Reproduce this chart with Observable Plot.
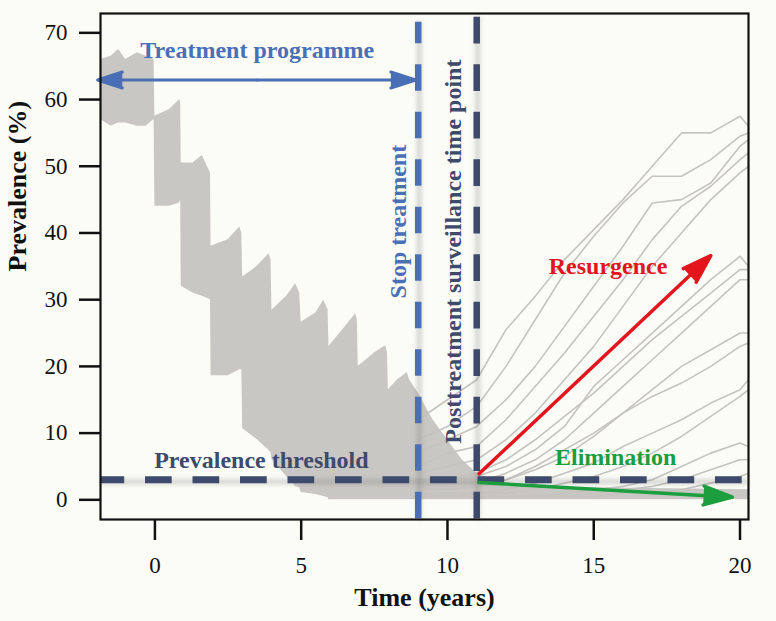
<!DOCTYPE html>
<html><head><meta charset="utf-8">
<script src="https://cdn.jsdelivr.net/npm/d3@7"></script>
<script src="https://cdn.jsdelivr.net/npm/@observablehq/plot@0.6"></script>
<style>
html,body{margin:0;padding:0;background:#fcfcf7;}
</style></head><body><div id="chart"></div>
<script>
// Envelope of the dense simulation runs (treatment phase)
const envT    = [-1.86,-1.5,-1.24,-1,-0.6,-0.3,-0.03, 0,0.5,0.85,0.88, 0.9,1.3,1.62,1.9, 1.92,2.5,2.9,2.97, 3.0,3.5,3.9,3.97, 4.0,4.5,4.81,4.95, 5.0,5.5,5.77,5.92, 5.95,6.5,6.86,6.92, 6.95,7.5,7.89,7.95, 7.98,8.3,8.63,8.7, 9.0,9.5,10,10.5,11,12,15,20.29];
const envHigh = [66,66.5,67.5,66,67,66.5,66, 57.5,58.5,60,59.5, 50.5,50.5,51.6,49, 38,39,40.9,40, 33.4,35,36.9,36, 28.4,30.5,32.4,31, 26.6,28,29.9,28.5, 23,25.9,27.9,27, 20,22,23.1,22, 16.5,18,19.1,18, 16,12,9,6,4,2,1.8,1.5];
const envLow  = [57,56,56.5,56.5,56,56,57, 44,44,44.5,45, 32,31,30.5,30, 18.6,18.6,19.5,19.5, 10.7,9,7.4,7, 6,3.5,2,1.8, 1.1,0.8,0.5,0.3, 0,0,0,0, 0,0,0,0, 0,0,0,0, 0,0,0,0,0,0,0,0];

// Individual post-treatment runs
const postT = [9,10,11,12,13,14,15,16,17,18,19,20,20.29];
const runA = [12,15,18,25.5,30.5,36,40.5,45,50,55,55,57.5,56];
const runB = [9,11,14,20,27,34,39.5,44.5,48.5,48.5,51,54.5,55];
const runC = [7,9,11,15,20,26,32,38,44.5,45,47.5,53,54];
const runD = [5,7,8,12,17,22,27.5,33,39,44,47,51,52];
const runE = [4,5,6,9,13,18,23,29,35,40,45,49,50];
const runF = [3,3,3.5,5,7.5,11,17,21,25,29,33,36.5,35];
const runG = [2,2.5,2.5,4,6,9,13,17,21,25,29,33,33];
const runH = [2,1.5,2,3,4.5,6.5,9.5,13,16.5,20,22.5,25,25];
const runI = [1,1,1,1.5,2.5,4,5.5,8,10,12,14.5,16.5,18];
const runK = [1,0.5,0.5,0.5,0.5,1,1.5,2,3,5,7,8.5,8];
const runL = [0.5,0.5,0.5,0.5,0.5,0.5,1,1.5,2,3,4.5,6,6];
const runM = [0.5,0.5,0.5,0.5,0.5,0.5,0.5,1,1,1.5,2.5,3.5,4];
const runN = [1.5,1.5,2,3,5,7.5,10,13,15.5,17.5,20,23,23.5];
const runO = [2.5,3,4,6,9,12.5,16,20,24,27.5,31,34.5,34.5];
const runP = [0.5,0.5,1,1,1.5,2.5,3.5,5,7,9.5,12.5,15.5,16.5];

const xTicks = [0,5,10,15,20];
const yTicks = [0,10,20,30,40,50,60,70];
const threshold = 3;
const stopYear = 9;
const surveyYear = 11;

const envelope = envT.map((t,i)=>({t, lo: envLow[i], hi: envHigh[i]}));
const postRuns = [runA,runB,runC,runD,runE,runF,runG,runH,runI,runK,runL,runM,runN,runO,runP];
const postRows = postRuns.flatMap((r,k)=> r.map((v,i)=>({t: postT[i], v, run: k})));

const serif = "'Liberation Serif','DejaVu Serif',serif";
const blue = "#4a6fb6", navy = "#3e4a6b", red = "#e3151c", green = "#1c9e3f";
const arrowStyle = {strokeWidth: 3, headLength: 13, headAngle: 36, strokeLinejoin: "miter"};

const plot = Plot.plot({
  width: 776, height: 621,
  marginLeft: 100, marginRight: 28, marginTop: 13, marginBottom: 102,
  style: {background: "#fcfcf7", fontFamily: serif, fontSize: "23px", color: "#111", overflow: "visible"},
  x: {domain: [-1.86, 20.29]},
  y: {domain: [-2.95, 72.9]},
  marks: [
    Plot.areaY(envelope, {x: "t", y1: "lo", y2: "hi", fill: "#c9c7c3"}),
    Plot.line(postRows, {x: "t", y: "v", z: "run", stroke: "#c5c3bf", strokeWidth: 1.6}),
    // shadows of dashed lines
    Plot.ruleY([threshold], {stroke: "#777", strokeOpacity: 0.3, strokeWidth: 5, dy: 2, ariaDescription: "shadow"}),
    Plot.ruleX([stopYear], {y1: 71.6, y2: -2.95, stroke: "#777", strokeOpacity: 0.3, strokeWidth: 5, dx: 1, ariaDescription: "shadow"}),
    Plot.ruleX([surveyYear], {y1: 72.34, y2: -2.95, stroke: "#777", strokeOpacity: 0.3, strokeWidth: 5, dx: 1, ariaDescription: "shadow"}),
    // dashed lines
    Plot.ruleY([threshold], {stroke: navy, strokeWidth: 7, strokeDasharray: "26.7,20.8", strokeDashoffset: 2.5}),
    Plot.ruleX([stopYear], {y1: 71.6, y2: -2.95, stroke: blue, strokeWidth: 6.5, strokeDasharray: "26.7,20.8", strokeDashoffset: 5}),
    Plot.ruleX([surveyYear], {y1: 72.34, y2: -2.95, stroke: navy, strokeWidth: 6.5, strokeDasharray: "26.7,20.8"}),
    // arrows
    Plot.arrow([{x1: 3.5, x2: -1.96}, {x1: 3.5, x2: 8.91}], {x1: "x1", x2: "x2", y1: 62.93, y2: 62.93, stroke: blue, fill: blue, ...arrowStyle}),
    Plot.arrow([{x1: 11.08, y1: 3.9, x2: 19.0, y2: 36.6}], {x1: "x1", y1: "y1", x2: "x2", y2: "y2", stroke: red, fill: red, ...arrowStyle, strokeWidth: 3.5}),
    Plot.arrow([{x1: 11.07, y1: 2.6, x2: 19.74, y2: 0.4}], {x1: "x1", y1: "y1", x2: "x2", y2: "y2", stroke: green, fill: green, ...arrowStyle, strokeWidth: 3.5}),
    // labels
    Plot.text(["Treatment programme"], {x: 3.5, y: 67.41, text: d => d, fill: blue, fontWeight: "bold", fontSize: 24}),
    Plot.text(["Prevalence threshold"], {x: 3.64, y: 5.95, text: d => d, fill: navy, fontWeight: "bold", fontSize: 24}),
    Plot.text(["Resurgence"], {x: 15.49, y: 34.93, text: d => d, fill: red, fontWeight: "bold", fontSize: 24}),
    Plot.text(["Elimination"], {x: 15.75, y: 6.4, text: d => d, fill: green, fontWeight: "bold", fontSize: 24}),
    Plot.text(["Stop treatment"], {x: 8.31, y: 41.7, text: d => d, rotate: -90, fill: blue, fontWeight: "bold", fontSize: 24}),
    Plot.text(["Posttreatment surveillance time point"], {x: 10.19, y: 37.2, text: d => d, rotate: -90, fill: navy, fontWeight: "bold", fontSize: 24}),
    // axes
    Plot.frame({stroke: "#111", strokeWidth: 2.2}),
    Plot.axisY(yTicks, {tickSize: 21, tickPadding: 12, strokeWidth: 2.5, fontSize: 23, label: null}),
    Plot.axisX(xTicks, {tickSize: 21, tickPadding: 16, strokeWidth: 2.5, fontSize: 23, label: null}),
    Plot.text(["Prevalence (%)"], {frameAnchor: "left", dx: -83, dy: 5, rotate: -90, text: d => d, fontWeight: "bold", fontSize: 26, fill: "#111"}),
    Plot.text(["Time (years)"], {frameAnchor: "bottom", dy: 86.7, text: d => d, fontWeight: "bold", fontSize: 26, fill: "#111"})
  ]
});
d3.select(plot).selectAll('[aria-description="shadow"]').style("filter", "blur(2px)");
document.getElementById("chart").appendChild(plot);
</script>
</body></html>
